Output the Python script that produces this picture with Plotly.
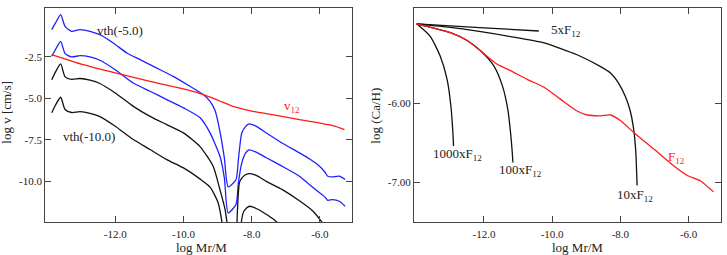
import plotly.graph_objects as go

# ---------------- Left panel data: log v vs log Mr/M ----------------
blue1_x = [-13.86, -13.75, -13.60, -13.47, -13.28, -13.03, -12.74, -12.45, -12.06, -11.66, -11.27,
           -10.88, -10.30, -9.81, -9.42, -9.22, -9.07, -8.93, -8.80, -8.69, -8.46, -8.39, -8.29,
           -8.18, -8.07, -7.85, -7.57, -7.10, -6.60, -6.30, -6.01, -5.85, -5.77, -5.63, -5.43, -5.26]
blue1_y = [-0.85, -0.45, 0.05, -0.66, -0.96, -0.85, -0.96, -1.16, -1.66, -2.26, -2.66,
           -3.07, -3.67, -4.27, -4.77, -5.18, -5.75, -7.0, -8.6, -10.33, -9.9, -8.69, -7.08,
           -6.70, -6.54, -6.70, -7.08, -7.70, -8.28, -8.65, -9.09, -9.45, -9.69, -9.73, -9.69, -9.89]

blue2_x = [-13.86, -13.75, -13.60, -13.47, -13.28, -13.03, -12.74, -12.45, -12.0, -11.47, -10.98,
           -10.49, -10.0, -9.51, -9.22, -8.93, -8.80, -8.69, -8.46, -8.39, -8.29, -8.18, -8.08,
           -7.85, -7.57, -7.10, -6.60, -6.30, -6.01, -5.85, -5.77, -5.63, -5.43, -5.26]
blue2_y = [-2.46, -2.05, -1.56, -2.30, -2.50, -2.42, -2.50, -2.70, -3.27, -4.07, -4.57,
           -5.07, -5.57, -6.17, -7.08, -8.49, -9.8, -11.9, -11.4, -10.1, -8.89, -8.30, -8.10,
           -8.25, -8.58, -9.10, -9.69, -10.2, -10.69, -10.95, -11.14, -11.10, -11.20, -11.50]

black1_x = [-13.86, -13.75, -13.60, -13.47, -13.28, -13.03, -12.74, -12.45, -12.0, -11.47, -10.98,
            -10.49, -10.0, -9.52, -9.13, -8.93, -8.78, -8.69, None,
            -8.44, -8.36, -8.29, -8.18, -8.05, -7.85, -7.57, -7.10, -6.58, -6.20, -5.85]
black1_y = [-3.87, -3.40, -2.92, -3.70, -3.85, -3.80, -3.90, -4.10, -4.67, -5.48, -6.08,
            -6.58, -7.08, -7.89, -9.09, -10.5, -11.7, -13.0, None,
            -13.0, -10.09, -9.80, -9.60, -9.53, -9.65, -10.0, -10.5, -11.2, -11.8, -12.7]

black2_x = [-13.86, -13.75, -13.60, -13.47, -13.28, -13.03, -12.74, -12.45, -12.0, -11.47, -10.98,
            -10.49, -10.0, -9.52, -9.22, -8.98, -8.83, None,
            -8.34, -8.25, -8.15, -8.05, -7.85, -7.60, -7.35, -7.15]
black2_y = [-5.87, -5.40, -4.93, -5.67, -5.85, -5.80, -5.90, -6.10, -6.68, -7.48, -8.08,
            -8.69, -9.19, -9.85, -10.35, -11.3, -13.0, None,
            -13.0, -11.9, -11.6, -11.5, -11.65, -11.95, -12.3, -12.7]

v12_x = [-13.87, -13.41, -12.94, -12.0, -10.98, -10.0, -9.51, -9.03, -8.55, -8.06, -7.57, -6.60, -5.62, -5.28]
v12_y = [-2.36, -2.66, -2.96, -3.46, -3.97, -4.43, -4.71, -5.07, -5.48, -5.73, -5.92, -6.28, -6.64, -6.88]

left_yticks = [-10.0, -7.5, -5.0, -2.5]
left_yticktext = ["-10.0", "-7.5", "-5.0", "-2.5"]

# ---------------- Right panel data: log (Ca/H) vs log Mr/M ----------------
f5_x = [-13.97, -12.0, -10.39]
f5_y = [-5.0, -5.05, -5.09]

f10_x = [-13.97, -12.68, -11.22, -10.24, -9.27, -8.58, -8.29, -8.05, -7.85, -7.71, -7.62, -7.55, -7.51]
f10_y = [-5.0, -5.06, -5.16, -5.24, -5.39, -5.54, -5.62, -5.75, -5.92, -6.10, -6.30, -6.60, -7.04]

f100_x = [-13.97, -13.5, -12.98, -12.49, -12.10, -11.71, -11.46, -11.30, -11.22, -11.17, -11.15]
f100_y = [-5.0, -5.05, -5.11, -5.21, -5.34, -5.53, -5.78, -6.08, -6.37, -6.62, -6.75]

f1000_x = [-13.97, -13.57, -13.28, -13.08, -12.97, -12.91, -12.89]
f1000_y = [-5.0, -5.16, -5.41, -5.70, -6.03, -6.37, -6.54]

f12_x = [-13.97, -13.5, -12.98, -12.49, -12.10, -11.61, -11.22, -10.73, -10.24, -9.76, -9.27,
         -8.97, -8.58, -8.29, -8.00, -7.61, -7.02, -6.44, -6.05, -5.66, -5.27]
f12_y = [-5.0, -5.05, -5.11, -5.21, -5.34, -5.51, -5.59, -5.70, -5.80, -5.95, -6.10,
         -6.15, -6.16, -6.15, -6.22, -6.37, -6.58, -6.79, -6.91, -6.98, -7.12]

right_yticks = [-7.0, -6.0]
right_yticktext = ["-7.00", "-6.00"]

x_ticks = [-12.0, -10.0, -8.0, -6.0]
x_ticktext = ["-12.0", "-10.0", "-8.0", "-6.0"]

BLUE = "#2020ff"
RED = "#ff1a1a"
BLACK = "#111111"
FONT = "Liberation Serif"
LW = 1.3

fig = go.Figure()

def add(x, y, color, xa, ya, shape="spline"):
    fig.add_trace(go.Scatter(x=x, y=y, mode="lines", xaxis=xa, yaxis=ya,
                             line=dict(color=color, width=LW, shape=shape, smoothing=0.6),
                             connectgaps=False, showlegend=False, hoverinfo="skip"))

add(blue1_x, blue1_y, BLUE, "x", "y")
add(blue2_x, blue2_y, BLUE, "x", "y")
add(black1_x, black1_y, BLACK, "x", "y")
add(black2_x, black2_y, BLACK, "x", "y")
add(v12_x, v12_y, RED, "x", "y")

add(f5_x, f5_y, BLACK, "x2", "y2")
add(f10_x, f10_y, BLACK, "x2", "y2")
add(f100_x, f100_y, BLACK, "x2", "y2")
add(f1000_x, f1000_y, BLACK, "x2", "y2")
add(f12_x, f12_y, RED, "x2", "y2")

W = 727.0
axis_common = dict(showgrid=False, zeroline=False, showline=True, linecolor="#444", linewidth=1.2,
                   mirror="ticks", ticks="inside", ticklen=6, tickwidth=1, tickcolor="#444",
                   tickfont=dict(family=FONT, size=11, color="#222"))

fig.update_layout(
    width=727, height=255,
    margin=dict(l=0, r=0, t=8, b=33),
    paper_bgcolor="white", plot_bgcolor="white",
    font=dict(family=FONT, color="#222"),
    xaxis=dict(domain=[45.3 / W, 352.3 / W], range=[-14.05, -5.05], tickvals=x_ticks,
               ticktext=x_ticktext, anchor="y", ticklabelstandoff=2, **axis_common),
    yaxis=dict(domain=[0, 1], range=[-12.45, 0.45], tickvals=left_yticks,
               ticktext=left_yticktext, anchor="x", **axis_common),
    xaxis2=dict(domain=[414 / W, 721 / W], range=[-14.05, -5.05], tickvals=x_ticks,
                ticktext=x_ticktext, anchor="y2", ticklabelstandoff=2, **axis_common),
    yaxis2=dict(domain=[0, 1], range=[-7.5, -4.8], tickvals=right_yticks,
                ticktext=right_yticktext, anchor="x2", **axis_common),
)

def note(text, x, y, xref, yref, color="#222", size=13, angle=0, xanchor="center"):
    fig.add_annotation(text=text, x=x, y=y, xref=xref, yref=yref, showarrow=False,
                       font=dict(family=FONT, size=size, color=color), textangle=angle,
                       xanchor=xanchor, yanchor="middle", borderpad=0)

# in-plot labels
note("vth(-5.0)", -11.86, -0.9, "x", "y")
note("vth(-10.0)", -12.76, -7.32, "x", "y")
note("v<sub>12</sub>", -6.83, -5.48, "x", "y", color=RED)
note("5xF<sub>12</sub>", -10.05, -5.09, "x2", "y2", xanchor="left")
note("1000xF<sub>12</sub>", -12.78, -6.65, "x2", "y2")
note("100xF<sub>12</sub>", -10.92, -6.85, "x2", "y2")
note("10xF<sub>12</sub>", -7.56, -7.17, "x2", "y2")
note("F<sub>12</sub>", -6.36, -6.68, "x2", "y2", color=RED)

# axis titles
PH = 214.0
note("log Mr/M", 201 / W, (222.3 - 248.3) / PH, "paper", "paper")
note("log Mr/M", 577 / W, (222.3 - 248.3) / PH, "paper", "paper")
note("log v [cm/s]", 7 / W, (222.3 - 113) / PH, "paper", "paper", angle=-90)
note("log (Ca/H)", 376 / W, (222.3 - 116) / PH, "paper", "paper", angle=-90)

fig.write_html("out.html", config={"displayModeBar": False},
               post_script="document.body.style.margin='0px';document.body.style.overflow='hidden';")
